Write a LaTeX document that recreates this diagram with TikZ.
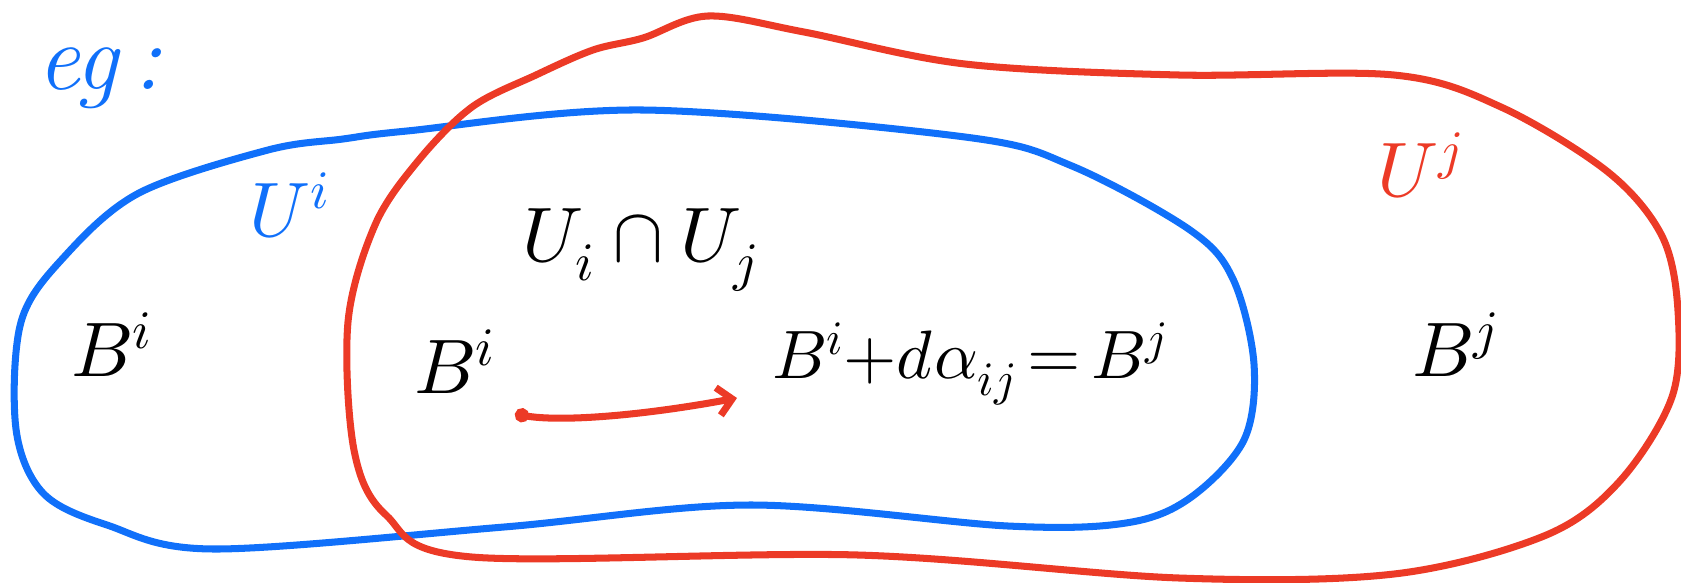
\documentclass[tikz,border=0pt]{standalone}
\usepackage{fontspec}
\usepackage{unicode-math}
\setmathfont{Latin Modern Math}
\usetikzlibrary{arrows.meta}
\definecolor{penblue}{RGB}{16,112,250}
\definecolor{penred}{RGB}{236,58,38}
\tikzset{
  bluecurve/.style={draw=penblue, line width=4pt, line join=round},
  redcurve/.style={draw=penred, line width=4pt, line join=round},
  handtxt/.style={font=\fontsize{44}{50}\selectfont, inner sep=0pt},
  bluetxt/.style={handtxt, text=penblue},
  redtxt/.style={handtxt, text=penred},
  blacktxt/.style={handtxt, text=black},
  redarrow/.style={draw=penred, line width=4pt, line cap=round, {Circle[length=8pt]}-{Straight Barb[length=8pt,width=16pt]}}
}
\begin{document}
\begin{tikzpicture}[x=0.02cm, y=-0.02cm]
\useasboundingbox (0,0) rectangle (1681,582);
% blue region U^i
\draw[bluecurve] plot[smooth cycle, tension=0.55] coordinates {
 (343,139) (407,131) (643,110) (965,137) (1072,166) (1190,230) (1233,279)
 (1254,364) (1244,440) (1190,498) (1126,523) (1008,526) (750,505) (504,527)
 (214,549) (107,525) (43,493) (16,429) (21,322) (64,257) (139,193) (268,150)};
% red region U^j
\draw[redcurve] plot[smooth cycle, tension=0.55] coordinates {
 (593,50) (643,38) (708,16) (804,32) (965,64) (1179,75) (1394,75) (1501,107)
 (1608,172) (1662,236) (1678,311) (1672,397) (1619,482) (1544,536) (1394,574)
 (1179,578) (858,555) (472,557) (386,515) (354,450) (348,322) (375,225)
 (418,161) (472,107) (536,75)};
% texts
\node[bluetxt, font=\fontsize{54}{60}\selectfont] (eg) at (100,78) {\itshape eg\,:};
\node[bluetxt] (ui) at (290,205) {$U^{i}$};
\node[redtxt] (uj) at (1420,165) {$U^{j}$};
\node[blacktxt] (cap) at (640,250) {$U_{i}\cap U_{j}$};
\node[blacktxt] (bileft) at (112,345) {$B^{i}$};
\node[blacktxt] (bimid) at (455,362) {$B^{i}$};
\node[blacktxt, anchor=west, font=\fontsize{39}{45}\selectfont] (eq) at (772,364)
  {$B^{i}{+}d\alpha_{ij}\,{=}\,B^{j}$};
\node[blacktxt] (bj) at (1455,345) {$B^{j}$};
% maps-to arrow
\coordinate (as) at (515,414);
\coordinate (ae) at (737,398);
\draw[redarrow] (as) .. controls (560,422) and (640,416) .. (ae);
\end{tikzpicture}
\end{document}
